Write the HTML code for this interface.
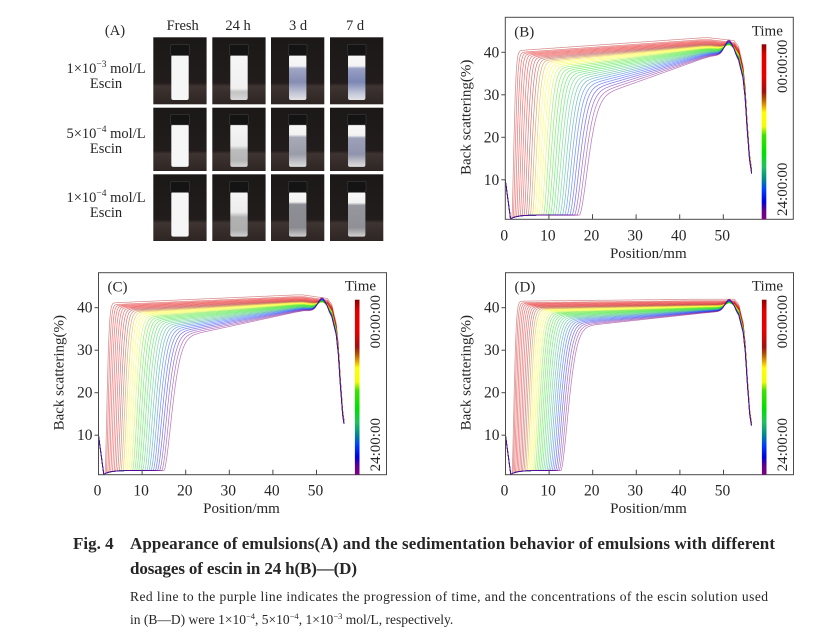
<!DOCTYPE html>
<html><head><meta charset="utf-8">
<style>
html,body{margin:0;padding:0;background:#fff;}
svg{display:block;}
text{font-family:"Liberation Serif","Times New Roman",serif;fill:#262626;}
</style></head>
<body>
<svg id="s" width="825" height="635" viewBox="0 0 825 635" xmlns="http://www.w3.org/2000/svg">
<defs>
<linearGradient id="cb" x1="0" y1="0" x2="0" y2="1">
<stop offset="0" stop-color="#8b0000"/><stop offset="0.06" stop-color="#e00000"/><stop offset="0.18" stop-color="#e80000"/><stop offset="0.27" stop-color="#a01010"/><stop offset="0.31" stop-color="#b05000"/><stop offset="0.35" stop-color="#e0a000"/><stop offset="0.39" stop-color="#ffff00"/><stop offset="0.47" stop-color="#f0ff00"/><stop offset="0.52" stop-color="#40e000"/><stop offset="0.62" stop-color="#00e000"/><stop offset="0.70" stop-color="#20c060"/><stop offset="0.77" stop-color="#008a8a"/><stop offset="0.83" stop-color="#0040ff"/><stop offset="0.90" stop-color="#0000e0"/><stop offset="0.95" stop-color="#600090"/><stop offset="1" stop-color="#800080"/>
</linearGradient>
<linearGradient id="pbg" x1="0" y1="0" x2="0" y2="1">
<stop offset="0" stop-color="#1b1818"/><stop offset="0.68" stop-color="#221d1c"/><stop offset="0.73" stop-color="#3e3431"/><stop offset="1" stop-color="#2e2624"/>
</linearGradient>
<linearGradient id="v10" x1="0" y1="0" x2="0" y2="1"><stop offset="0" stop-color="#f6f6f6"/><stop offset="0.74" stop-color="#f0f0f0"/><stop offset="0.82" stop-color="#c4c4c4"/><stop offset="1" stop-color="#d8d8d8"/></linearGradient>
<linearGradient id="v11" x1="0" y1="0" x2="0" y2="1"><stop offset="0" stop-color="#f6f6f6"/><stop offset="0.5" stop-color="#ececec"/><stop offset="0.6" stop-color="#bcbcbc"/><stop offset="0.85" stop-color="#b6b6b6"/><stop offset="1" stop-color="#d5d5d5"/></linearGradient>
<linearGradient id="v12" x1="0" y1="0" x2="0" y2="1"><stop offset="0" stop-color="#f6f6f6"/><stop offset="0.45" stop-color="#ececec"/><stop offset="0.56" stop-color="#b2b2b2"/><stop offset="0.85" stop-color="#adadad"/><stop offset="1" stop-color="#d0d0d0"/></linearGradient>
<linearGradient id="v20" x1="0" y1="0" x2="0" y2="1"><stop offset="0" stop-color="#f8f8f8"/><stop offset="0.24" stop-color="#f4f4f4"/><stop offset="0.3" stop-color="#a0a6c4"/><stop offset="0.6" stop-color="#868db2"/><stop offset="0.85" stop-color="#c4c7d6"/><stop offset="1" stop-color="#e2e2e6"/></linearGradient>
<linearGradient id="v21" x1="0" y1="0" x2="0" y2="1"><stop offset="0" stop-color="#f8f8f8"/><stop offset="0.24" stop-color="#f2f2f2"/><stop offset="0.3" stop-color="#a8aab8"/><stop offset="0.7" stop-color="#9a9ca8"/><stop offset="0.9" stop-color="#c8c8cc"/><stop offset="1" stop-color="#dcdcdc"/></linearGradient>
<linearGradient id="v22" x1="0" y1="0" x2="0" y2="1"><stop offset="0" stop-color="#f8f8f8"/><stop offset="0.22" stop-color="#f2f2f2"/><stop offset="0.28" stop-color="#8e8e96"/><stop offset="0.8" stop-color="#8a8a90"/><stop offset="1" stop-color="#d0d0d0"/></linearGradient>
<linearGradient id="v30" x1="0" y1="0" x2="0" y2="1"><stop offset="0" stop-color="#f8f8f8"/><stop offset="0.24" stop-color="#f4f4f4"/><stop offset="0.3" stop-color="#98a0c4"/><stop offset="0.6" stop-color="#7c86b4"/><stop offset="0.85" stop-color="#c2c6d8"/><stop offset="1" stop-color="#e2e2e6"/></linearGradient>
<linearGradient id="v31" x1="0" y1="0" x2="0" y2="1"><stop offset="0" stop-color="#f8f8f8"/><stop offset="0.26" stop-color="#f2f2f2"/><stop offset="0.32" stop-color="#9ca0b8"/><stop offset="0.7" stop-color="#9094ac"/><stop offset="0.9" stop-color="#c8c8cc"/><stop offset="1" stop-color="#dcdcdc"/></linearGradient>
<linearGradient id="v32" x1="0" y1="0" x2="0" y2="1"><stop offset="0" stop-color="#f8f8f8"/><stop offset="0.24" stop-color="#f2f2f2"/><stop offset="0.3" stop-color="#96969e"/><stop offset="0.8" stop-color="#909096"/><stop offset="1" stop-color="#d2d2d2"/></linearGradient>
</defs>

<g font-size="14.5">
<text x="115" y="35" text-anchor="middle">(A)</text>
<text x="182.7" y="30" text-anchor="middle">Fresh</text>
<text x="238" y="30" text-anchor="middle">24 h</text>
<text x="298" y="30" text-anchor="middle">3 d</text>
<text x="355" y="30" text-anchor="middle">7 d</text>
<text x="106" y="73" text-anchor="middle">1×10<tspan font-size="9.5" dy="-6">−3</tspan><tspan dy="6"> mol/L</tspan></text>
<text x="106" y="88" text-anchor="middle">Escin</text>
<text x="106" y="138" text-anchor="middle">5×10<tspan font-size="9.5" dy="-6">−4</tspan><tspan dy="6"> mol/L</tspan></text>
<text x="106" y="153" text-anchor="middle">Escin</text>
<text x="106" y="202" text-anchor="middle">1×10<tspan font-size="9.5" dy="-6">−4</tspan><tspan dy="6"> mol/L</tspan></text>
<text x="106" y="217" text-anchor="middle">Escin</text>
</g>
<g id="photos"></g>

<g id="pB"></g><g id="pC"></g><g id="pD"></g>

<text x="73" y="549" font-weight="bold" font-size="17">Fig. 4</text>
<text x="130" y="549" font-weight="bold" font-size="17" textLength="645" lengthAdjust="spacing">Appearance of emulsions(A) and the sedimentation behavior of emulsions with different</text>
<text x="130" y="574" font-weight="bold" font-size="17" textLength="227" lengthAdjust="spacing">dosages of escin in 24 h(B)—(D)</text>
<text x="130" y="601" font-size="13.5" textLength="638" lengthAdjust="spacing">Red line to the purple line indicates the progression of time, and the concentrations of the escin solution used</text>
<text x="130" y="624" font-size="13.5">in (B—D) were 1×10<tspan font-size="8.5" dy="-5">−4</tspan><tspan dy="5">, 5×10</tspan><tspan font-size="8.5" dy="-5">−4</tspan><tspan dy="5">, 1×10</tspan><tspan font-size="8.5" dy="-5">−3</tspan><tspan dy="5"> mol/L, respectively.</tspan></text>
</svg>

<script>
(function(){
var stops=[[0,[176,40,40]],[0.06,[224,0,0]],[0.18,[232,0,0]],[0.27,[160,16,16]],[0.31,[176,80,0]],[0.35,[224,160,0]],[0.39,[255,255,0]],[0.47,[240,255,0]],[0.52,[64,224,0]],[0.62,[0,224,0]],[0.70,[32,192,96]],[0.77,[0,138,138]],[0.83,[0,64,255]],[0.90,[0,0,224]],[0.95,[96,0,144]],[1,[128,0,128]]];
function cmap(t){
  for(var i=1;i<stops.length;i++){
    if(t<=stops[i][0]){
      var a=stops[i-1],b=stops[i],f=(t-a[0])/(b[0]-a[0]);
      return 'rgb('+a[1].map(function(v,k){return Math.round(v+(b[1][k]-v)*f);}).join(',')+')';
    }
  }
  return 'rgb(128,0,128)';
}
var dropX=[52.5,53.5,54.5,55,55.5,56,56.7], dropV=[1,0.97,0.87,0.75,0.55,0.38,0.26];
function drop(x){
  if(x<=52.5) return 1;
  for(var i=1;i<dropX.length;i++){
    if(x<=dropX[i]){var f=(x-dropX[i-1])/(dropX[i]-dropX[i-1]);return dropV[i-1]+(dropV[i]-dropV[i-1])*f;}
  }
  return 0.26;
}
function panel(ox,oy,label,p){
  var sx=4.36, sy=4.25, y0=oy+205, W=288, H=202;
  function X(x){return ox+x*sx;}
  function Y(v){return y0-v*sy;}
  var g='';
  var N=32;
  for(var i=0;i<N;i++){
    var t=i/(N-1);
    var x1=p.xa+(p.xb-p.xa)*Math.pow(t,1.15);
    var w=1.2+p.wr*t;
    var c=p.c*Math.pow(t,0.6);
    var E=p.E*t*t;
    var bump=p.bump*Math.pow(t,1.5);
    var pts=[];
    for(var x=0;x<=p.xe+1e-6;x+=0.1){
      var b;
      if(x<1.2) b=10-(10-0.8)*(x/1.2);
      else b=0.8+0.9*(1-Math.exp(-(x-1.2)/1.5));
      var top=p.top(x);
      var ext=x<50?E*(50-x)/(50-x1):0;
      var P=top-c-ext;
      P+=bump*Math.exp(-Math.pow((x-51.3)/1.3,2));
      var u=(x-x1)/w;
      var S=u<=0?0:1-Math.exp(-2.7*Math.pow(u,1.65));
      var v=b+(P-b)*S;
      v*=drop(x);
      pts.push(X(x).toFixed(1)+','+Y(v).toFixed(1));
    }
    g+='<polyline points="'+pts.join(' ')+'" fill="none" stroke="'+cmap(t)+'" stroke-width="0.75" stroke-opacity="0.52" stroke-linejoin="round"/>';
  }
  g+='<rect x="'+ox+'" y="'+oy+'" width="'+W+'" height="'+H+'" fill="none" stroke="#4a4a4a" stroke-width="1"/>';
  for(var k=0;k<=50;k+=10){
    var xx=X(k);
    if(k>0) g+='<line x1="'+xx+'" y1="'+(oy+H)+'" x2="'+xx+'" y2="'+(oy+H-5)+'" stroke="#4a4a4a" stroke-width="1"/>';
    g+='<text x="'+(xx-1)+'" y="'+(oy+223)+'" font-size="15.5" text-anchor="middle">'+k+'</text>';
  }
  for(var k2=10;k2<=40;k2+=10){
    var yy=Y(k2);
    g+='<line x1="'+(ox-4)+'" y1="'+yy+'" x2="'+ox+'" y2="'+yy+'" stroke="#4a4a4a" stroke-width="1"/>';
    g+='<text x="'+(ox-6)+'" y="'+(yy+5)+'" font-size="15.5" text-anchor="end">'+k2+'</text>';
  }
  g+='<text x="'+(ox+143)+'" y="'+(oy+240.5)+'" font-size="15" text-anchor="middle">Position/mm</text>';
  g+='<text transform="translate('+(ox-35)+','+(oy+100)+') rotate(-90)" font-size="15" text-anchor="middle">Back scattering(%)</text>';
  g+='<text x="'+(ox+9)+'" y="'+(oy+19)+'" font-size="15">'+label+'</text>';
  g+='<text x="'+(ox+262)+'" y="'+(oy+18)+'" font-size="15" text-anchor="middle">Time</text>';
  g+='<rect x="'+(ox+256.4)+'" y="'+(oy+27)+'" width="4.6" height="'+(H-27)+'" fill="url(#cb)"/>';
  g+='<text transform="translate('+(ox+281.5)+','+(oy+49)+') rotate(-90)" font-size="15" text-anchor="middle">00:00:00</text>';
  g+='<text transform="translate('+(ox+281.5)+','+(oy+172)+') rotate(-90)" font-size="15" text-anchor="middle">24:00:00</text>';
  return g;
}
function topB(x){var m=Math.min(x,45);var v=40.2+3.2*m/45; if(x>47)v-=0.12*(x-47); return v;}
function topC(x){var m=Math.min(x,45);var v=41+2*m/45; if(x>47)v-=0.15*(x-47); return v;}
function topD(x){var m=Math.min(x,45);return 41.5+0.5*m/45;}
document.getElementById('pB').innerHTML=panel(505.3,17.3,'(B)',{xa:1.5,xb:17,wr:3.8,c:3.5,E:9.75,bump:3.5,xe:56.5,top:topB});
document.getElementById('pC').innerHTML=panel(98.5,272.7,'(C)',{xa:1.5,xb:15,wr:3.5,c:3.2,E:6.2,bump:3.2,xe:56.3,top:topC});
document.getElementById('pD').innerHTML=panel(505.5,272.7,'(D)',{xa:1.5,xb:12.7,wr:3.3,c:2.8,E:3.7,bump:2.8,xe:56.4,top:topD});

var cols=[153.3,212.3,271,330], rows=[37.3,107.7,174.3], hs=[67,63.3,66.7], pw=53.3;
var s='';
for(var r=0;r<3;r++){
  for(var c=0;c<4;c++){
    var x=cols[c], y=rows[r], w=pw, h=hs[r];
    s+='<rect x="'+x+'" y="'+y+'" width="'+w+'" height="'+h+'" fill="url(#pbg)"/>';
    var bx=x+w*0.338, bw=w*0.326, by=y+h*0.265, bh=h*0.67;
    var cx=x+w*0.326, cw=w*0.35, cy=y+h*0.105, ch=h*0.165;
    var fill=(c==0)?'#f6f6f6':'url(#v'+c+r+')';
    s+='<rect x="'+bx+'" y="'+by+'" width="'+bw+'" height="'+bh+'" rx="2" fill="'+fill+'"/>';
    s+='<rect x="'+cx+'" y="'+cy+'" width="'+cw+'" height="'+ch+'" rx="1.5" fill="#141414" stroke="#3c3c3c" stroke-width="0.6"/>';
  }
}
document.getElementById('photos').innerHTML=s;
})();
</script>
</body></html>
